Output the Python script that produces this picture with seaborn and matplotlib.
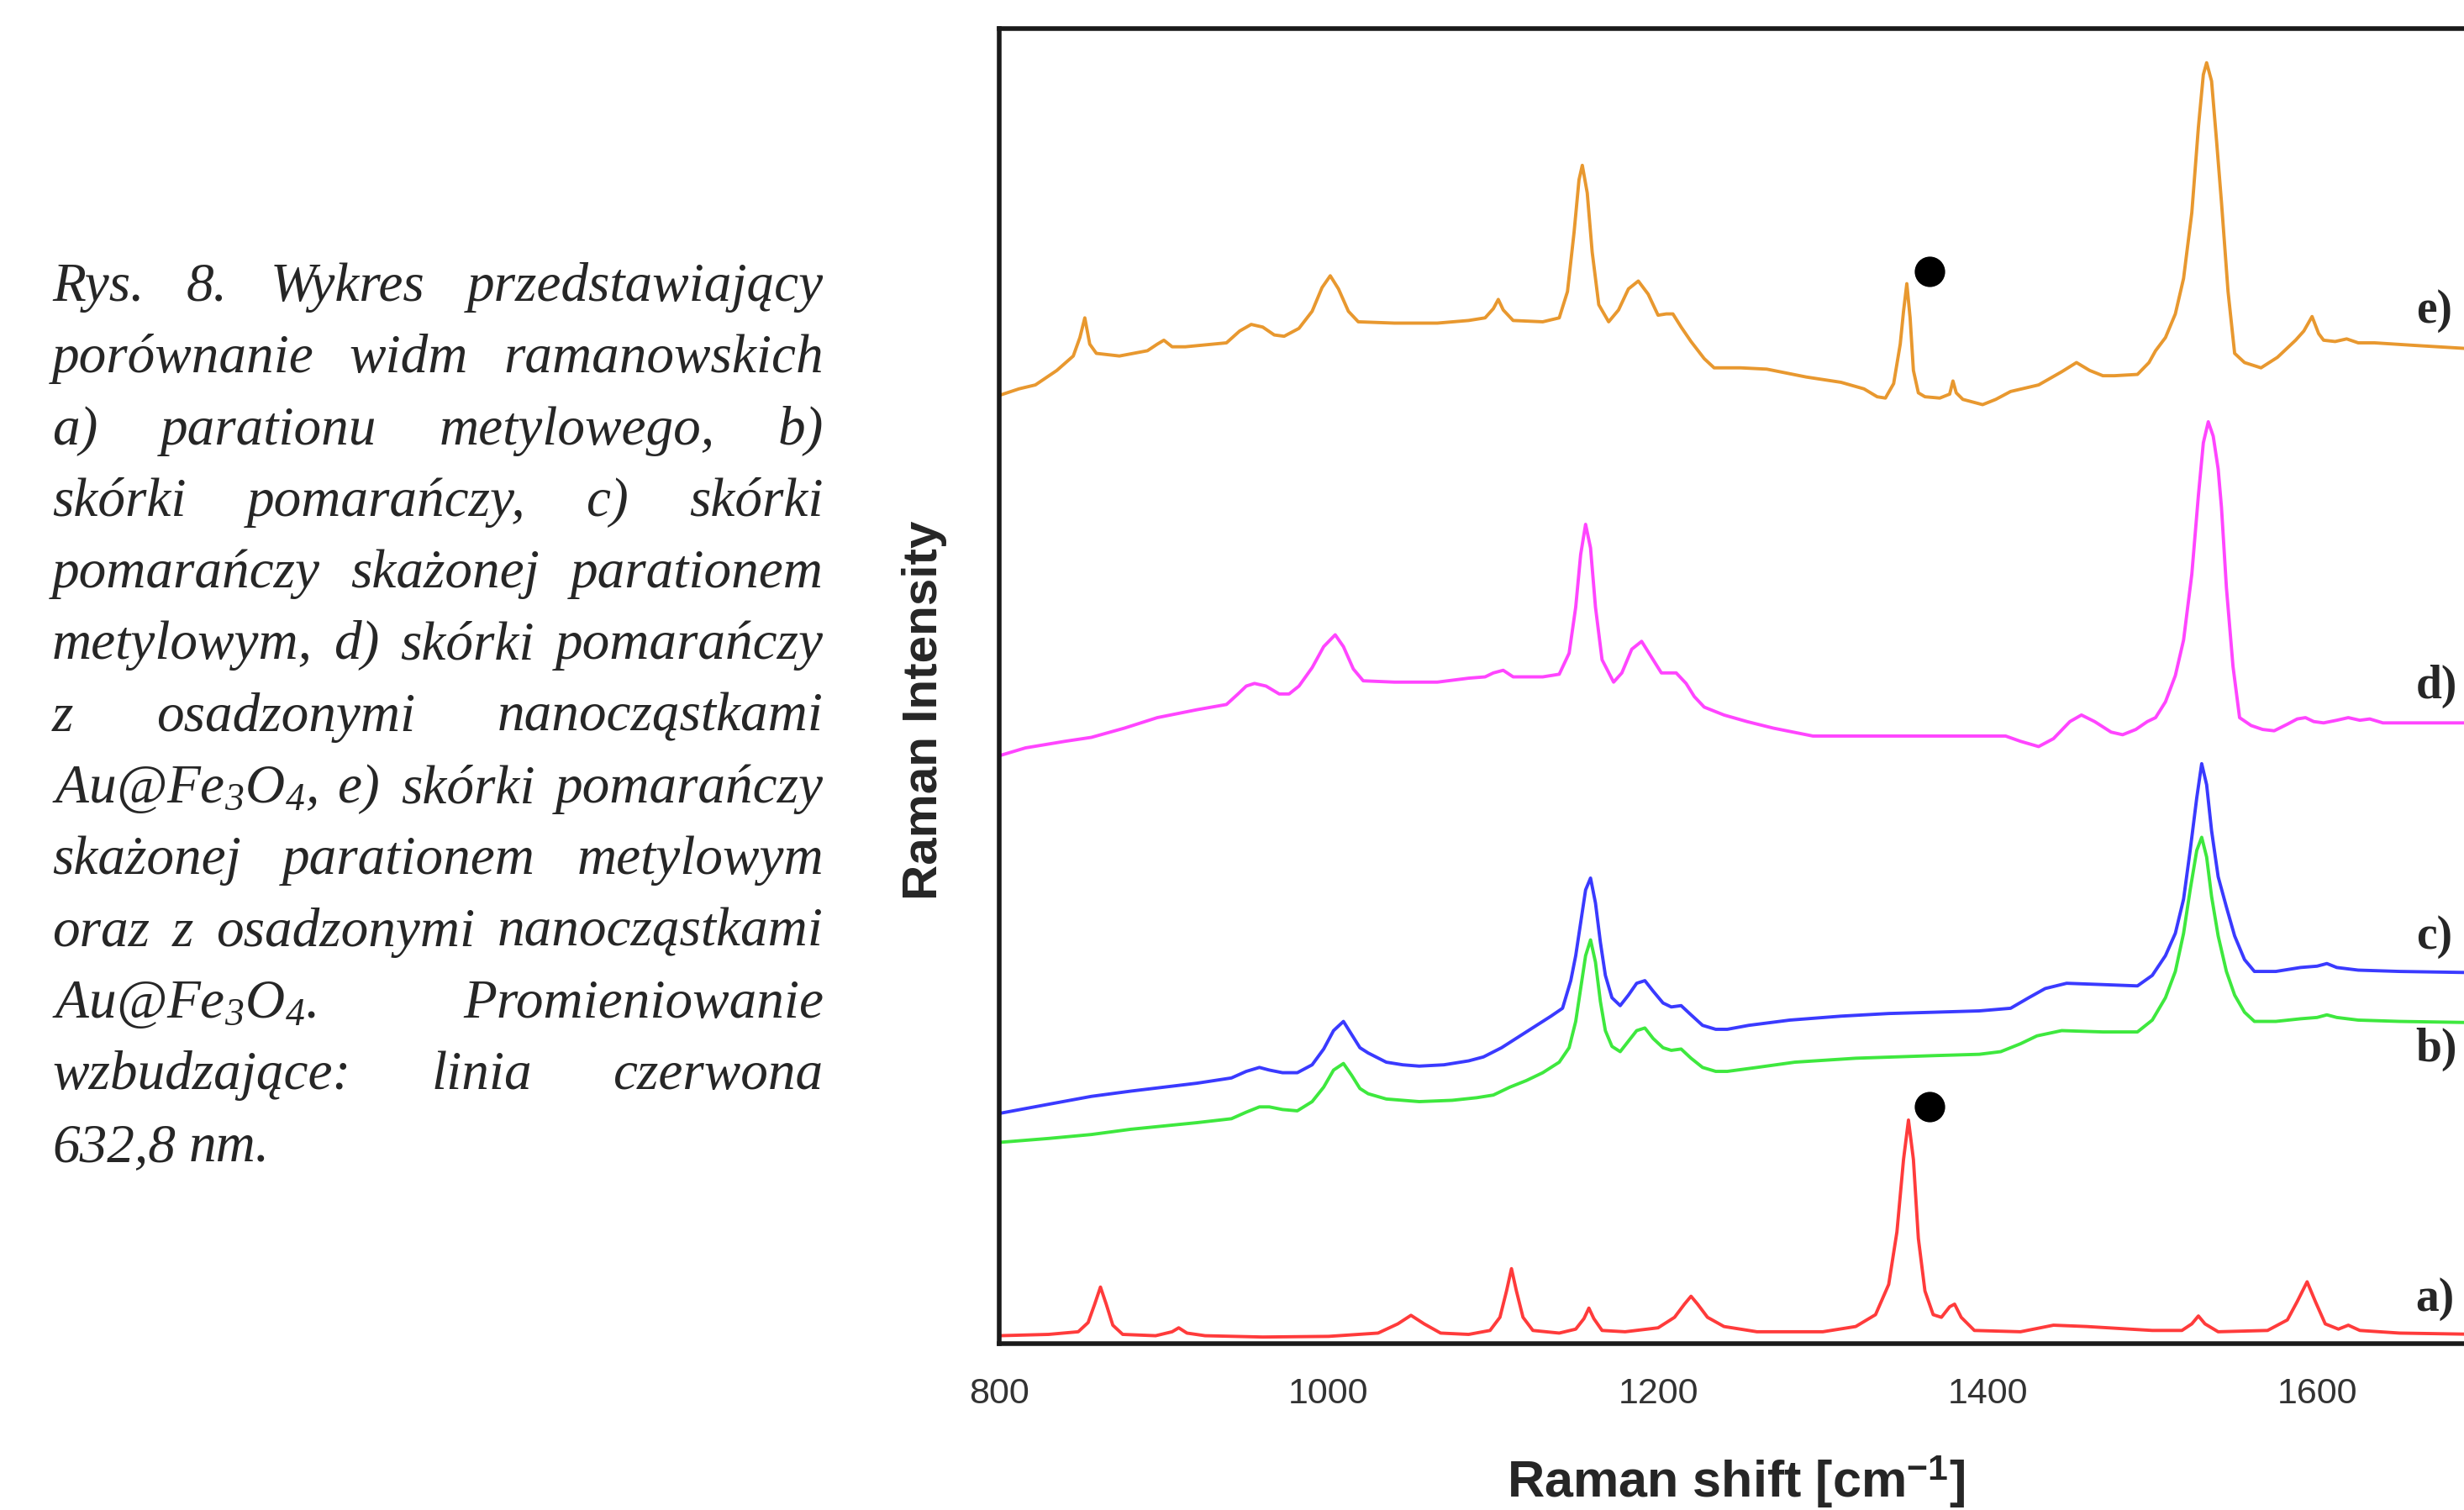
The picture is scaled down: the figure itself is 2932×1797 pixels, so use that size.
import matplotlib
matplotlib.use('Agg')
import pandas as pd
import matplotlib.pyplot as plt
import seaborn as sns

sns.set_style('white')
plt.rcParams['font.family'] = ['Liberation Sans', 'DejaVu Sans']
plt.rcParams['mathtext.fontset'] = 'custom'
plt.rcParams['mathtext.it'] = 'Liberation Serif:italic'
plt.rcParams['mathtext.rm'] = 'Liberation Serif:italic'
plt.rcParams['mathtext.bf'] = 'Liberation Sans:bold'

# spectra (Raman shift in cm-1, intensity in arbitrary units, stacked)
a_x = [800, 830, 848, 854, 858, 861.5, 865, 869, 875, 895, 905, 909, 914, 925, 960, 1000, 1030, 1042,
       1050, 1058, 1068, 1085, 1098, 1104, 1108, 1111, 1114, 1118, 1124, 1140, 1150, 1155, 1158, 1161,
       1166, 1180, 1200, 1210, 1216, 1220, 1224, 1230, 1240, 1260, 1300, 1320, 1332, 1340, 1345, 1349,
       1352, 1355, 1358, 1362, 1367, 1372, 1377, 1380, 1384, 1392, 1420, 1440, 1460, 1500, 1518, 1524,
       1528, 1532, 1540, 1570, 1582, 1588, 1594, 1599, 1605, 1613, 1619, 1626, 1650, 1700]
a_y = [0.6, 0.7, 0.9, 1.6, 3.0, 4.3, 3.0, 1.4, 0.7, 0.6, 0.9, 1.2, 0.8, 0.6, 0.5, 0.55, 0.8, 1.5,
       2.15, 1.5, 0.8, 0.7, 1.0, 2.0, 4.0, 5.7, 4.0, 2.0, 1.0, 0.8, 1.1, 1.9, 2.7, 1.9,
       1.0, 0.9, 1.2, 2.0, 3.0, 3.6, 3.0, 2.0, 1.3, 0.9, 0.9, 1.3, 2.2, 4.5, 8.5, 14.0,
       17.0, 14.0, 8.0, 4.0, 2.2, 2.0, 2.8, 3.0, 2.0, 1.0, 0.9, 1.4, 1.3, 1.0, 1.0, 1.5,
       2.1, 1.5, 0.9, 1.0, 1.8, 3.2, 4.7, 3.2, 1.5, 1.1, 1.4, 1.0, 0.8, 0.7]

b_x = [800, 830, 856, 880, 920, 941, 950, 958, 964, 972, 981, 990, 997, 1003, 1009, 1014, 1019, 1024,
       1035, 1055, 1075, 1090, 1100, 1110, 1120, 1130, 1140, 1146, 1150, 1153, 1156, 1159, 1162, 1165,
       1168, 1172, 1177, 1182, 1187, 1192, 1197, 1203, 1208, 1214, 1220, 1227, 1235, 1242, 1260, 1283,
       1320, 1368, 1395, 1408, 1420, 1430, 1445, 1470, 1491, 1500, 1508, 1514, 1519, 1523, 1527, 1530,
       1533, 1536, 1540, 1545, 1550, 1556, 1562, 1575, 1590, 1600, 1606, 1612, 1625, 1650, 1700]
b_y = [15.3, 15.6, 15.9, 16.3, 16.8, 17.1, 17.6, 18.0, 18.0, 17.8, 17.7, 18.4, 19.5, 20.8, 21.3, 20.4, 19.4, 19.0,
       18.6, 18.4, 18.5, 18.7, 18.9, 19.5, 20.0, 20.6, 21.4, 22.5, 24.5, 27.0, 29.5, 30.7, 29.0, 26.0,
       23.8, 22.6, 22.2, 23.0, 23.8, 24.0, 23.2, 22.5, 22.3, 22.4, 21.7, 21.0, 20.7, 20.7, 21.0, 21.4,
       21.7, 21.9, 22.0, 22.2, 22.8, 23.4, 23.8, 23.7, 23.7, 24.6, 26.3, 28.3, 31.2, 34.5, 37.5, 38.5,
       37.0, 34.0, 31.0, 28.3, 26.5, 25.2, 24.5, 24.5, 24.7, 24.8, 25.0, 24.8, 24.6, 24.5, 24.4]

c_x = [800, 830, 856, 880, 920, 941, 950, 958, 964, 972, 981, 990, 997, 1003, 1009, 1014, 1019, 1024,
       1035, 1045, 1055, 1070, 1085, 1094, 1105, 1115, 1125, 1135, 1142, 1147, 1150, 1153, 1156, 1159,
       1162, 1165, 1168, 1172, 1177, 1182, 1187, 1192, 1197, 1203, 1208, 1214, 1220, 1227, 1235, 1242,
       1255, 1280, 1311, 1340, 1368, 1395, 1414, 1425, 1435, 1448, 1470, 1491, 1500, 1508, 1514, 1519,
       1523, 1527, 1530, 1533, 1536, 1540, 1545, 1550, 1556, 1562, 1575, 1590, 1600, 1606, 1612, 1625,
       1650, 1700]
c_y = [17.5, 18.2, 18.8, 19.2, 19.8, 20.2, 20.7, 21.0, 20.8, 20.6, 20.6, 21.2, 22.4, 23.8, 24.5, 23.5, 22.5, 22.1,
       21.4, 21.2, 21.1, 21.2, 21.5, 21.8, 22.5, 23.3, 24.1, 24.9, 25.5, 27.6, 29.5, 32.0, 34.5, 35.4,
       33.5, 30.5, 28.0, 26.3, 25.7, 26.5, 27.4, 27.6, 26.8, 25.9, 25.6, 25.7, 25.0, 24.2, 23.9, 23.9,
       24.2, 24.6, 24.9, 25.1, 25.2, 25.3, 25.5, 26.3, 27.0, 27.4, 27.3, 27.2, 28.0, 29.5, 31.2, 33.8,
       37.5, 41.5, 44.1, 42.5, 39.0, 35.5, 33.2, 31.0, 29.2, 28.3, 28.3, 28.6, 28.7, 28.9, 28.6, 28.4,
       28.3, 28.2]

d_x = [800, 816, 840, 856, 876, 896, 920, 938, 945, 950, 955, 962, 970, 976, 982, 990, 997, 1004,
       1009, 1015, 1021, 1040, 1066, 1085, 1095, 1100, 1106, 1112, 1120, 1130, 1140, 1146, 1150, 1153,
       1156, 1159, 1162, 1166, 1173, 1178, 1184, 1190, 1196, 1202, 1211, 1217, 1222, 1228, 1240, 1254,
       1270, 1294, 1330, 1368, 1411, 1420, 1431, 1440, 1450, 1457, 1465, 1475, 1482, 1490, 1497, 1502,
       1508, 1514, 1519, 1524, 1528, 1531, 1534, 1537, 1540, 1542, 1545, 1549, 1553, 1560, 1567, 1574,
       1582, 1588, 1593, 1598, 1604, 1612, 1619, 1626, 1632, 1640, 1647, 1700]
d_y = [44.7, 45.3, 45.8, 46.1, 46.8, 47.6, 48.2, 48.6, 49.4, 50.0, 50.2, 50.0, 49.4, 49.4, 50.0, 51.4, 53.0, 53.9,
       53.0, 51.3, 50.4, 50.3, 50.3, 50.6, 50.7, 51.0, 51.2, 50.7, 50.7, 50.7, 50.9, 52.5, 56.0, 60.0,
       62.3, 60.5, 56.0, 52.0, 50.3, 51.0, 52.8, 53.4, 52.2, 51.0, 51.0, 50.2, 49.2, 48.4, 47.8, 47.3,
       46.8, 46.2, 46.2, 46.2, 46.2, 45.8, 45.4, 46.0, 47.3, 47.8, 47.3, 46.5, 46.3, 46.7, 47.3, 47.6,
       48.8, 50.8, 53.5, 58.5, 64.5, 68.5, 70.1, 69.0, 66.5, 63.6, 57.5, 51.5, 47.6, 47.0, 46.7, 46.6,
       47.1, 47.5, 47.6, 47.3, 47.2, 47.4, 47.6, 47.4, 47.5, 47.2, 47.2, 47.2]

e_x = [800, 812, 822, 835, 845, 849, 852, 855, 859, 873, 890, 896, 900, 905, 913, 938, 946, 953,
       960, 967, 973, 982, 990, 996, 1001, 1006, 1012, 1018, 1040, 1066, 1085, 1095, 1100, 1103, 1106,
       1112, 1130, 1140, 1145, 1149, 1152, 1154, 1157, 1160, 1164, 1170, 1176, 1182, 1188, 1194, 1200,
       1205, 1209, 1214, 1220, 1228, 1234, 1250, 1266, 1290, 1311, 1325, 1333, 1338, 1343, 1347, 1349,
       1351, 1353, 1355, 1358, 1362, 1371, 1377, 1379, 1381, 1385, 1397, 1405, 1414, 1431, 1445, 1454,
       1462, 1470, 1477, 1491, 1498, 1502, 1508, 1514, 1519, 1524, 1528, 1531, 1533, 1536, 1539, 1542,
       1546, 1550, 1556, 1566, 1576, 1587, 1592, 1597, 1601, 1604, 1611, 1618, 1625, 1635, 1660, 1700]
e_y = [72.1, 72.6, 72.9, 74.0, 75.1, 76.5, 78.0, 76.0, 75.3, 75.1, 75.5, 76.0, 76.3, 75.8, 75.8, 76.1, 77.0, 77.5,
       77.3, 76.7, 76.6, 77.2, 78.5, 80.3, 81.2, 80.2, 78.5, 77.7, 77.6, 77.6, 77.8, 78.0, 78.7, 79.4, 78.6,
       77.8, 77.7, 78.0, 80.0, 84.5, 88.5, 89.6, 87.5, 83.0, 79.0, 77.7, 78.6, 80.2, 80.8, 79.8, 78.2,
       78.3, 78.3, 77.3, 76.2, 74.9, 74.2, 74.2, 74.1, 73.5, 73.1, 72.6, 72.0, 71.9, 73.0, 76.0, 78.5,
       80.6, 78.0, 74.0, 72.3, 72.0, 71.9, 72.2, 73.2, 72.3, 71.8, 71.4, 71.8, 72.4, 72.9, 73.9, 74.6,
       74.0, 73.6, 73.6, 73.7, 74.6, 75.5, 76.5, 78.3, 81.0, 86.0, 92.5, 96.5, 97.4, 96.0, 91.5, 86.8,
       80.0, 75.3, 74.6, 74.2, 75.0, 76.3, 77.0, 78.1, 76.8, 76.3, 76.2, 76.4, 76.1, 76.1, 75.9, 75.6]

samples = ['a)', 'b)', 'c)', 'd)', 'e)']
colors = {'a)': '#ff3b3b', 'b)': '#3ee83e', 'c)': '#3a3aff', 'd)': '#ff45ff', 'e)': '#e8982f'}
label_y = [3.4, 22.4, 30.9, 50.0, 78.5]
label_x = 1660

# black dots marking the parathion band
dot_x = [1365, 1365]
dot_y = [18.0, 81.5]

xticks_major = [800, 1000, 1200, 1400, 1600]
xticks_minor = [900, 1100, 1300, 1500]

caption_lines = [
    'Rys. 8. Wykres przedstawiający',
    'porównanie widm ramanowskich',
    'a) parationu metylowego, b)',
    'skórki pomarańczy, c) skórki',
    'pomarańczy skażonej parationem',
    'metylowym, d) skórki pomarańczy',
    'z osadzonymi nanocząstkami',
    'Au@Fe$_3$O$_4$, e) skórki pomarańczy',
    'skażonej parationem metylowym',
    'oraz z osadzonymi nanocząstkami',
    'Au@Fe$_3$O$_4$. Promieniowanie',
    'wzbudzające: linia czerwona',
    '632,8 nm.',
]

frames = []
for name, xs, ys in zip(samples, [a_x, b_x, c_x, d_x, e_x], [a_y, b_y, c_y, d_y, e_y]):
    frames.append(pd.DataFrame({'shift': xs, 'intensity': ys, 'sample': name}))
df = pd.concat(frames, ignore_index=True)

W, H = 2932, 1797
fig = plt.figure(figsize=(W / 100, H / 100), dpi=100)
ax = fig.add_axes([0.4055, 0.1102, 0.6017, 0.8709])

sns.lineplot(data=df, x='shift', y='intensity', hue='sample', palette=colors,
             estimator=None, lw=2.8, legend=False, ax=ax)
sns.scatterplot(x=dot_x, y=dot_y, s=680, color='black', linewidth=0, ax=ax)

for name, yy in zip(samples, label_y):
    ax.text(label_x, yy, name, fontsize=40, family='Liberation Serif', weight='bold',
            va='center', ha='left', clip_on=False)

ax.set_xlim(800, 1700)
ax.set_ylim(0, 100)
ax.set_xticks(xticks_major)
ax.set_xticks(xticks_minor, minor=True)
ax.set_yticks([])
ax.set_xlabel('')
ax.set_ylabel('')
ax.tick_params(axis='x', which='major', direction='out', length=20, width=2.5,
               color='#111111', labelsize=31, labelcolor='#333333', pad=9)
ax.tick_params(axis='x', which='minor', direction='out', length=12, width=2.5, color='#111111')
for side in ['left', 'top', 'bottom']:
    ax.spines[side].set_linewidth(4)
    ax.spines[side].set_color('#1a1a1a')
ax.spines['right'].set_visible(False)

fig.text(2066 / W, 1 - 1763 / H, 'Raman shift [cm$^{\\mathbf{-1}}$]', fontsize=44,
         weight='bold', ha='center', va='center')
fig.text(1100 / W, 1 - 845 / H, 'Raman Intensity', fontsize=42, weight='bold',
         rotation=90, ha='center', va='center')

# justified caption block on the left
renderer = fig.canvas.get_renderer()
cap_left, cap_right = 62, 980
cap_base0, cap_step = 358, 85.3
for i, line in enumerate(caption_lines):
    words = line.split(' ')
    yy = 1 - (cap_base0 + i * cap_step) / H
    texts = [fig.text(0, yy, w, fontsize=47, family='Liberation Serif', style='italic',
                      va='baseline', ha='left') for w in words]
    widths = [t.get_window_extent(renderer).width for t in texts]
    if i == len(caption_lines) - 1 or len(words) == 1:
        gap = 16
    else:
        gap = (cap_right - cap_left - sum(widths)) / (len(words) - 1)
    x = cap_left
    for t, w in zip(texts, widths):
        t.set_x(x / W)
        x += w + gap

fig.savefig('out.png', dpi=100)
